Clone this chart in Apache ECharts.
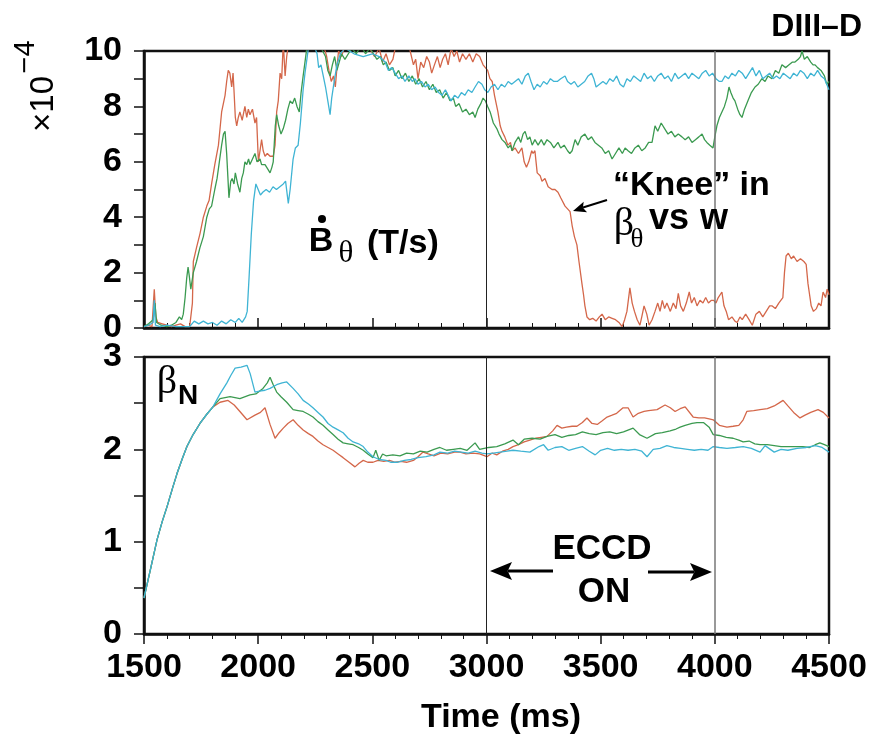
<!DOCTYPE html>
<html><head><meta charset="utf-8">
<script src="https://cdn.jsdelivr.net/npm/echarts@6/dist/echarts.min.js"></script>
<style>html,body{margin:0;padding:0;background:#fff}#c{width:873px;height:740px}</style>
</head><body><div id="c"></div>
<script>
const timeTicks = [1500, 2000, 2500, 3000, 3500, 4000, 4500];
const bdotTicks = [0, 2, 4, 6, 8, 10];
const betaTicks = [0, 1, 2, 3];
const eccdTimes = [3000, 4000];

const bdotRed = [[1500,0.05],[1520,0.1],[1535,0.05],[1545,1.4],[1552,0.4],[1560,0.2],[1580,0.15],[1600,0.1],[1620,0.05],[1640,0.1],[1660,0.15],[1680,0.05],[1700,0.05],[1712,0.9],[1716,2.4],[1730,2.9],[1745,3.4],[1760,4.0],[1775,4.4],[1785,4.6],[1796,5.2],[1810,5.9],[1826,6.6],[1840,7.8],[1855,8.4],[1862,8.9],[1869,9.3],[1876,9.2],[1884,8.7],[1890,9.2],[1894,8.6],[1900,7.6],[1906,7.3],[1913,7.6],[1920,7.8],[1930,7.5],[1942,8.0],[1950,7.6],[1957,7.9],[1964,7.7],[1975,7.9],[1986,7.4],[1993,7.6],[2001,6.0],[2008,6.4],[2015,6.8],[2022,6.4],[2030,6.2],[2040,6.3],[2052,6.2],[2066,6.2],[2074,6.6],[2081,7.8],[2088,8.2],[2096,9.2],[2103,9.0],[2110,10.3],[2118,9.1],[2125,9.8],[2135,10.4],[2200,10.6],[2280,10.4],[2300,9.8],[2310,9.3],[2320,8.9],[2330,9.1],[2338,8.7],[2345,9.4],[2352,10.0],[2365,9.8],[2380,10.2],[2420,10.4],[2480,10.2],[2510,9.8],[2530,10.1],[2545,9.6],[2560,9.9],[2575,9.5],[2590,9.7],[2600,10.1],[2620,10.3],[2660,10.2],[2680,9.5],[2690,9.7],[2700,9.0],[2712,9.6],[2725,9.4],[2738,9.8],[2750,9.6],[2760,9.2],[2772,9.5],[2785,9.8],[2797,9.4],[2808,9.7],[2820,9.9],[2832,9.5],[2845,10.1],[2858,9.8],[2870,10.0],[2882,9.6],[2895,9.9],[2910,9.7],[2925,9.9],[2940,9.6],[2955,9.9],[2970,9.8],[2985,9.5],[2995,9.4],[3005,9.3],[3015,9.0],[3025,8.9],[3035,8.4],[3050,7.8],[3060,7.3],[3068,7.1],[3080,6.9],[3094,6.6],[3105,6.7],[3112,6.4],[3125,6.5],[3140,6.3],[3155,6.5],[3165,6.0],[3175,5.8],[3185,6.0],[3198,6.4],[3204,6.3],[3212,6.4],[3222,5.6],[3235,5.5],[3243,5.3],[3256,5.4],[3270,5.1],[3287,5.0],[3300,5.0],[3313,4.9],[3325,4.7],[3344,4.4],[3355,4.3],[3366,4.2],[3375,3.7],[3385,3.3],[3396,3.0],[3405,2.4],[3418,1.6],[3425,1.2],[3431,0.8],[3440,0.4],[3452,0.3],[3465,0.35],[3480,0.25],[3494,0.4],[3506,0.5],[3520,0.3],[3535,0.4],[3550,0.35],[3565,0.3],[3580,0.2],[3594,0.05],[3605,0.3],[3615,0.6],[3628,1.45],[3638,0.9],[3648,0.6],[3660,0.3],[3672,0.1],[3680,0.4],[3690,0.8],[3702,0.5],[3712,0.1],[3725,0.3],[3738,0.6],[3750,0.9],[3760,0.6],[3770,1.0],[3780,0.7],[3790,0.9],[3805,0.6],[3818,0.9],[3830,0.7],[3840,1.25],[3850,0.8],[3862,0.6],[3875,0.9],[3888,1.3],[3898,0.9],[3910,1.1],[3922,0.8],[3935,1.0],[3948,0.9],[3960,1.1],[3972,0.9],[3985,1.0],[3995,1.0],[4005,0.9],[4015,1.1],[4031,1.3],[4040,0.8],[4050,0.6],[4060,0.3],[4075,0.4],[4088,0.25],[4098,0.2],[4110,0.4],[4120,0.3],[4135,0.5],[4150,0.3],[4164,0.1],[4180,0.5],[4195,0.6],[4210,0.4],[4225,0.6],[4240,0.8],[4250,0.8],[4265,0.7],[4280,0.9],[4298,1.1],[4305,2.0],[4312,2.6],[4322,2.7],[4335,2.5],[4345,2.6],[4360,2.4],[4375,2.5],[4390,2.4],[4400,2.3],[4408,1.6],[4415,1.2],[4422,0.8],[4432,0.6],[4445,0.7],[4455,0.9],[4465,0.8],[4474,1.3],[4485,1.1],[4492,1.4],[4500,1.2]];

const bdotGreen = [[1500,0.05],[1520,0.15],[1540,0.3],[1548,0.9],[1555,0.2],[1575,0.1],[1600,0.05],[1620,0.1],[1640,0.2],[1655,0.4],[1665,0.3],[1672,0.5],[1680,1.1],[1687,1.8],[1693,2.2],[1698,1.9],[1705,1.4],[1716,2.0],[1730,2.4],[1745,2.9],[1760,3.3],[1775,4.0],[1786,4.3],[1796,4.4],[1810,5.0],[1820,5.4],[1830,6.0],[1840,6.6],[1848,7.0],[1855,7.1],[1862,6.3],[1867,5.5],[1872,4.7],[1880,5.3],[1886,5.4],[1894,5.2],[1900,5.6],[1910,5.2],[1920,4.9],[1928,5.4],[1935,5.6],[1942,6.0],[1950,5.9],[1958,6.1],[1964,5.9],[1975,6.1],[1986,6.3],[1995,6.0],[2008,6.1],[2015,5.9],[2030,5.9],[2045,5.7],[2052,5.6],[2060,5.8],[2066,6.0],[2075,7.3],[2081,7.7],[2090,7.3],[2100,7.0],[2110,7.2],[2120,7.5],[2130,7.9],[2140,8.2],[2150,8.1],[2160,8.3],[2170,8.0],[2180,7.8],[2188,8.5],[2197,9.1],[2205,9.6],[2213,10.1],[2240,10.3],[2270,10.2],[2295,9.8],[2305,9.3],[2315,9.1],[2325,9.5],[2335,9.8],[2345,9.3],[2355,9.6],[2365,9.9],[2380,9.7],[2395,9.9],[2410,10.1],[2430,9.9],[2450,10.2],[2470,9.9],[2490,10.1],[2505,9.9],[2520,9.7],[2535,9.8],[2548,9.5],[2560,9.6],[2575,9.3],[2590,9.4],[2600,9.1],[2615,9.3],[2630,9.0],[2645,9.2],[2660,8.9],[2675,9.1],[2690,8.8],[2705,9.0],[2720,8.7],[2735,8.9],[2750,8.6],[2765,8.8],[2780,8.5],[2795,8.6],[2810,8.3],[2825,8.5],[2840,8.2],[2855,8.3],[2865,8.0],[2880,8.1],[2895,7.8],[2910,7.9],[2925,7.7],[2940,7.8],[2950,7.6],[2962,7.9],[2975,8.1],[2985,8.3],[2995,8.2],[3005,8.0],[3016,7.8],[3030,7.4],[3045,7.2],[3055,7.0],[3068,6.8],[3081,6.7],[3095,6.5],[3105,6.6],[3112,6.4],[3125,6.7],[3140,6.9],[3150,6.7],[3160,7.0],[3169,7.1],[3180,6.8],[3190,6.9],[3200,6.6],[3212,6.8],[3226,6.6],[3240,6.8],[3252,6.6],[3265,6.8],[3280,6.7],[3295,6.5],[3313,6.7],[3325,6.5],[3340,6.6],[3355,6.4],[3365,6.3],[3375,6.4],[3388,6.8],[3400,6.6],[3415,6.9],[3431,7.0],[3445,6.8],[3460,6.9],[3475,6.7],[3490,6.6],[3505,6.5],[3520,6.3],[3535,6.4],[3550,6.1],[3565,6.3],[3580,6.5],[3595,6.3],[3607,6.5],[3620,6.4],[3635,6.3],[3650,6.5],[3665,6.6],[3680,6.4],[3695,6.5],[3710,6.7],[3725,6.7],[3738,7.3],[3750,7.1],[3765,7.4],[3780,7.2],[3795,7.0],[3810,7.1],[3825,6.9],[3840,7.0],[3856,6.9],[3870,6.8],[3885,6.9],[3900,6.7],[3915,6.8],[3930,6.9],[3944,7.0],[3955,6.8],[3965,6.7],[3978,6.6],[3992,6.5],[4000,6.9],[4009,7.3],[4020,7.6],[4031,7.8],[4042,8.0],[4053,8.3],[4062,8.7],[4070,8.5],[4080,8.3],[4088,8.2],[4100,7.9],[4110,7.7],[4119,7.6],[4130,7.9],[4145,8.2],[4160,8.5],[4176,8.7],[4190,8.8],[4206,9.0],[4220,8.9],[4233,9.1],[4250,9.0],[4265,9.3],[4280,9.2],[4294,9.5],[4310,9.4],[4325,9.5],[4340,9.6],[4351,9.6],[4365,9.7],[4375,9.8],[4382,10.0],[4392,9.7],[4405,9.8],[4420,9.6],[4430,9.5],[4439,9.5],[4450,9.4],[4465,9.3],[4480,9.1],[4490,8.8],[4500,8.9]];

const bdotBlue = [[1500,0.05],[1520,0.1],[1540,0.2],[1545,1.0],[1550,0.1],[1570,0.05],[1600,0.1],[1640,0.05],[1700,0.05],[1720,0.25],[1740,0.15],[1760,0.25],[1780,0.15],[1800,0.2],[1820,0.1],[1840,0.25],[1860,0.15],[1880,0.3],[1900,0.2],[1915,0.35],[1930,0.2],[1945,0.4],[1952,0.6],[1960,1.8],[1970,3.4],[1980,4.6],[1990,5.2],[2000,5.0],[2010,4.8],[2020,4.9],[2035,5.0],[2050,4.9],[2065,5.1],[2080,5.0],[2095,5.1],[2110,5.2],[2120,5.3],[2132,4.5],[2140,5.0],[2153,6.1],[2163,6.5],[2175,6.6],[2185,7.4],[2197,8.6],[2205,9.2],[2220,10.1],[2240,10.3],[2258,9.9],[2265,9.4],[2275,9.5],[2285,9.1],[2295,8.7],[2305,8.2],[2315,7.7],[2322,8.3],[2333,8.9],[2345,9.5],[2360,9.9],[2380,10.1],[2420,9.9],[2460,9.8],[2500,9.9],[2530,9.8],[2556,9.6],[2570,9.3],[2585,9.4],[2600,9.2],[2615,9.0],[2630,9.1],[2643,8.9],[2660,9.1],[2675,8.9],[2687,9.0],[2700,8.8],[2715,8.9],[2731,8.7],[2745,8.8],[2760,8.6],[2775,8.7],[2790,8.5],[2805,8.4],[2820,8.6],[2832,8.4],[2845,8.2],[2860,8.4],[2875,8.3],[2890,8.5],[2905,8.4],[2920,8.6],[2936,8.5],[2950,8.7],[2965,8.9],[2980,8.8],[2992,8.6],[3006,8.5],[3020,8.7],[3035,8.8],[3050,8.6],[3065,8.8],[3080,8.7],[3095,8.9],[3110,8.8],[3125,8.9],[3140,9.0],[3155,8.8],[3170,9.1],[3183,9.2],[3195,8.9],[3208,8.6],[3222,8.8],[3235,8.7],[3250,8.9],[3265,8.8],[3280,9.0],[3295,8.9],[3310,8.9],[3325,9.0],[3344,9.1],[3355,8.9],[3370,8.8],[3385,8.9],[3400,8.7],[3415,8.8],[3430,8.9],[3445,9.1],[3460,9.2],[3470,9.0],[3480,8.7],[3495,8.8],[3510,8.9],[3525,8.8],[3540,9.0],[3555,8.9],[3570,9.1],[3585,8.8],[3600,8.7],[3615,9.0],[3630,8.9],[3645,9.1],[3660,9.0],[3675,8.9],[3690,9.2],[3705,9.0],[3720,9.1],[3735,8.9],[3750,9.1],[3765,9.2],[3780,9.0],[3795,9.1],[3810,8.9],[3825,9.2],[3840,9.0],[3855,9.1],[3870,9.2],[3885,9.0],[3900,9.2],[3915,9.1],[3930,9.0],[3945,9.2],[3960,9.3],[3975,9.1],[3990,9.2],[4005,9.0],[4020,8.9],[4031,8.9],[4045,9.1],[4060,9.0],[4075,9.2],[4090,9.1],[4105,9.3],[4120,9.2],[4135,9.0],[4150,9.2],[4165,9.4],[4180,9.1],[4195,9.3],[4210,9.0],[4225,9.1],[4240,9.2],[4255,9.0],[4270,9.1],[4285,9.0],[4300,9.2],[4315,9.1],[4330,9.0],[4345,9.2],[4360,9.1],[4375,9.3],[4390,9.2],[4405,9.0],[4420,9.2],[4435,9.1],[4450,9.3],[4465,9.1],[4480,9.0],[4490,8.8],[4500,8.6]];

const betaRise = [[1500,0.39],[1530,0.72],[1557,1.02],[1580,1.22],[1601,1.38],[1625,1.58],[1645,1.74],[1668,1.9],[1688,2.03],[1715,2.16],[1745,2.28],[1775,2.38],[1802,2.46]];

const betaRedTail = [[1833,2.51],[1868,2.53],[1895,2.48],[1920,2.41],[1951,2.32],[1986,2.37],[2010,2.40],[2030,2.45],[2052,2.27],[2074,2.12],[2092,2.18],[2110,2.23],[2130,2.28],[2153,2.32],[2175,2.26],[2197,2.21],[2220,2.17],[2240,2.14],[2262,2.09],[2284,2.05],[2306,2.02],[2328,1.99],[2350,1.95],[2372,1.91],[2398,1.86],[2424,1.81],[2442,1.85],[2460,1.88],[2480,1.86],[2503,1.86],[2525,1.88],[2550,1.87],[2575,1.88],[2600,1.86],[2625,1.87],[2650,1.86],[2680,1.88],[2700,1.92],[2722,1.97],[2745,1.95],[2770,1.93],[2800,1.96],[2830,1.95],[2860,1.97],[2884,1.97],[2910,1.95],[2940,1.96],[2970,1.95],[3002,1.92],[3025,1.96],[3045,1.94],[3070,1.98],[3095,2.0],[3116,2.03],[3140,2.05],[3165,2.08],[3190,2.1],[3215,2.12],[3240,2.13],[3265,2.14],[3290,2.2],[3309,2.26],[3330,2.23],[3350,2.24],[3375,2.25],[3396,2.25],[3420,2.29],[3440,2.34],[3462,2.28],[3485,2.27],[3507,2.31],[3528,2.35],[3550,2.37],[3570,2.39],[3598,2.45],[3620,2.45],[3642,2.35],[3665,2.39],[3690,2.41],[3710,2.42],[3747,2.43],[3782,2.48],[3805,2.45],[3826,2.41],[3848,2.44],[3870,2.46],[3905,2.35],[3930,2.34],[3955,2.34],[3975,2.33],[3993,2.32],[4020,2.26],[4053,2.24],[4080,2.25],[4105,2.26],[4124,2.32],[4140,2.41],[4170,2.42],[4198,2.43],[4230,2.44],[4260,2.47],[4280,2.50],[4299,2.53],[4320,2.47],[4345,2.40],[4373,2.34],[4395,2.37],[4420,2.40],[4452,2.43],[4475,2.40],[4500,2.34]];

const betaGreenTail = [[1833,2.55],[1877,2.57],[1920,2.55],[1964,2.59],[1990,2.60],[2021,2.66],[2040,2.72],[2052,2.78],[2066,2.70],[2081,2.62],[2100,2.57],[2125,2.51],[2153,2.43],[2175,2.42],[2197,2.41],[2220,2.38],[2240,2.35],[2262,2.30],[2284,2.26],[2306,2.21],[2328,2.16],[2350,2.11],[2372,2.07],[2394,2.06],[2416,2.05],[2440,2.02],[2460,1.99],[2480,1.95],[2503,1.91],[2515,1.99],[2530,1.88],[2545,1.95],[2560,1.93],[2590,1.94],[2621,1.93],[2650,1.96],[2680,1.95],[2710,1.98],[2740,1.97],[2770,2.0],[2796,2.02],[2825,1.99],[2855,2.0],[2885,2.01],[2915,1.99],[2950,2.07],[2970,2.0],[2990,2.01],[3010,2.02],[3045,2.03],[3080,2.06],[3116,2.10],[3140,2.05],[3165,2.11],[3200,2.12],[3235,2.11],[3265,2.14],[3300,2.16],[3330,2.13],[3360,2.15],[3390,2.16],[3420,2.19],[3450,2.17],[3480,2.16],[3510,2.18],[3540,2.19],[3570,2.17],[3600,2.19],[3642,2.23],[3670,2.16],[3703,2.12],[3740,2.17],[3770,2.18],[3804,2.20],[3830,2.22],[3848,2.24],[3870,2.26],[3900,2.28],[3922,2.29],[3950,2.29],[3975,2.24],[3993,2.16],[4020,2.15],[4050,2.13],[4080,2.12],[4105,2.10],[4124,2.08],[4150,2.09],[4175,2.06],[4198,2.05],[4230,2.05],[4260,2.04],[4290,2.03],[4317,2.03],[4350,2.03],[4385,2.03],[4415,2.02],[4440,2.05],[4460,2.07],[4480,2.05],[4500,2.03]];

const betaBlueTail = [[1833,2.60],[1863,2.72],[1880,2.80],[1899,2.88],[1925,2.89],[1951,2.91],[1965,2.82],[1986,2.62],[2005,2.63],[2030,2.64],[2052,2.66],[2081,2.70],[2105,2.72],[2125,2.73],[2153,2.66],[2175,2.60],[2197,2.53],[2220,2.49],[2240,2.45],[2262,2.40],[2284,2.35],[2306,2.28],[2328,2.24],[2350,2.21],[2372,2.18],[2394,2.12],[2416,2.08],[2440,2.06],[2460,2.03],[2480,1.97],[2503,1.92],[2530,1.89],[2560,1.88],[2580,1.86],[2608,1.86],[2640,1.88],[2670,1.89],[2700,1.91],[2735,1.92],[2770,1.94],[2796,1.97],[2830,1.96],[2860,1.98],[2890,1.97],[2920,1.96],[2950,1.98],[2980,1.96],[3002,1.95],[3030,1.96],[3060,1.97],[3090,1.98],[3116,1.99],[3150,1.98],[3190,1.97],[3230,2.03],[3250,2.05],[3270,1.99],[3300,2.02],[3330,2.03],[3360,1.99],[3390,2.01],[3420,2.03],[3450,1.98],[3476,1.94],[3500,1.99],[3530,2.01],[3560,1.99],[3590,2.0],[3620,1.99],[3650,2.0],[3680,1.98],[3703,1.92],[3730,2.0],[3760,2.01],[3790,2.04],[3820,2.02],[3850,2.01],[3880,2.0],[3910,1.99],[3940,2.0],[3970,1.99],[3993,2.03],[4020,2.02],[4053,2.01],[4090,2.02],[4124,2.03],[4160,2.01],[4198,1.97],[4220,2.04],[4260,1.97],[4290,2.0],[4320,1.99],[4360,2.01],[4400,2.02],[4440,2.04],[4470,2.02],[4500,1.97]];

const betaRed = betaRise.concat(betaRedTail);
const betaGreen = betaRise.concat(betaGreenTail);
const betaBlue = betaRise.concat(betaBlueTail);

const RED = '#d4674a', GREEN = '#3b9a50', BLUE = '#3fb4d4';
const SANS = '"Liberation Sans", Arial, Helvetica, sans-serif';
const SERIF = '"Liberation Serif", "Times New Roman", serif';

const chart = echarts.init(document.getElementById('c'), null, {renderer: 'canvas'});

function xAxisCfg(idx, showLabels) {
  return {
    type: 'value', gridIndex: idx, min: 1500, max: 4500, interval: 500,
    axisLine: {show: true, onZero: false, lineStyle: {color: '#111', width: 2.5}},
    axisTick: {show: true, inside: !showLabels, length: 10, lineStyle: {color: '#111', width: 1.5}},
    minorTick: {show: true, splitNumber: 5, length: 5, lineStyle: {color: '#111', width: 1}},
    splitLine: {show: false}, minorSplitLine: {show: false},
    axisLabel: {show: showLabels, margin: 17, color: '#000', fontSize: 34, fontWeight: 'bold', fontFamily: SANS,
      formatter: v => timeTicks.indexOf(v) >= 0 ? String(v) : ''}
  };
}
function yAxisCfg(idx, max, interval, labels) {
  return {
    type: 'value', gridIndex: idx, min: 0, max: max, interval: interval,
    axisLine: {show: true, onZero: false, lineStyle: {color: '#111', width: 2.5}},
    axisTick: {show: true, inside: false, length: 10, lineStyle: {color: '#111', width: 1.5}},
    splitLine: {show: false},
    axisLabel: {margin: 22, color: '#000', fontSize: 34, fontWeight: 'bold', fontFamily: SANS,
      formatter: v => labels.indexOf(Math.round(v * 100) / 100) >= 0 ? String(v) : ''}
  };
}
function vlines() {
  return {
    symbol: 'none', silent: true, label: {show: false},
    lineStyle: {color: '#222', width: 1, type: 'solid'},
    emphasis: {disabled: true},
    data: eccdTimes.map((t, i) => ({xAxis: t, lineStyle: {color: i === 0 ? '#222' : '#777', width: i === 0 ? 1 : 1.5, type: 'solid'}}))
  };
}
function line(name, data, color, xi, yi, extra) {
  return Object.assign({
    name: name, type: 'line', xAxisIndex: xi, yAxisIndex: yi, data: data,
    showSymbol: false, symbol: 'none', smooth: false, clip: true, animation: false,
    lineStyle: {color: color, width: 1.3}, itemStyle: {color: color}
  }, extra || {});
}

function arrowHead(tip, dir, len, half) {
  const n = Math.hypot(dir[0], dir[1]);
  const ux = dir[0] / n, uy = dir[1] / n;
  const bx = tip[0] - ux * len, by = tip[1] - uy * len;
  const nx = bx + ux * len * 0.2, ny = by + uy * len * 0.2;
  return [[tip[0], tip[1]], [bx - uy * half, by + ux * half], [nx, ny], [bx + uy * half, by - ux * half]];
}

const txt = (x, y, text, size, opts) => ({
  type: 'text', x: x, y: y, z: 100,
  style: Object.assign({text: text, fill: '#000', fontSize: size, fontWeight: 'bold', fontFamily: SANS,
    align: 'left', verticalAlign: 'middle'}, opts || {})
});

const graphics = [
  // ×10^-4 (rotated, reading bottom to top)
  {type: 'text', x: 44, y: 104, rotation: Math.PI / 2, z: 100,
    style: {text: '×10', fill: '#000', fontSize: 33, fontFamily: SANS, align: 'center', verticalAlign: 'middle'}},
  {type: 'text', x: 26, y: 57, rotation: Math.PI / 2, z: 100,
    style: {text: '−4', fill: '#000', fontSize: 29, fontFamily: SANS, align: 'center', verticalAlign: 'middle'}},
  txt(862, 27, 'DIII–D', 32, {align: 'right'}),
  // B-dot theta (T/s)
  txt(321, 242, 'B', 34, {align: 'center'}),
  {type: 'circle', z: 100, shape: {cx: 322, cy: 219, r: 4}, style: {fill: '#000'}},
  txt(346, 254, 'θ', 31, {align: 'center', fontWeight: 'normal', fontFamily: SERIF}),
  txt(367, 244, '(T/s)', 34),
  // Knee annotation
  txt(613, 186, '“Knee” in', 34),
  txt(624, 224, 'β', 40, {align: 'center', fontWeight: 'normal', fontFamily: SERIF}),
  txt(637, 240, 'θ', 27, {align: 'center', fontWeight: 'normal', fontFamily: SERIF}),
  txt(649, 219, 'vs', 36),
  txt(700, 219, 'w', 36),
  {type: 'polyline', z: 100, shape: {points: [[607, 200], [583, 207.5]]}, style: {stroke: '#000', lineWidth: 2, fill: null}},
  {type: 'polygon', z: 100, shape: {points: arrowHead([573, 211], [-34, 11], 13, 5.5)}, style: {fill: '#000'}},
  // beta_N
  txt(167, 382, 'β', 40, {align: 'center', fontWeight: 'normal', fontFamily: SERIF}),
  txt(178, 396, 'N', 28),
  // ECCD ON
  txt(602, 549, 'ECCD', 35, {align: 'center'}),
  txt(604, 592, 'ON', 35, {align: 'center'}),
  {type: 'polyline', z: 100, shape: {points: [[553, 571], [508, 571]]}, style: {stroke: '#000', lineWidth: 3, fill: null}},
  {type: 'polygon', z: 100, shape: {points: arrowHead([490, 571], [-1, 0], 22, 9)}, style: {fill: '#000'}},
  {type: 'polyline', z: 100, shape: {points: [[648, 572], [694, 572]]}, style: {stroke: '#000', lineWidth: 3, fill: null}},
  {type: 'polygon', z: 100, shape: {points: arrowHead([712, 572], [1, 0], 22, 9)}, style: {fill: '#000'}},
  // x axis title
  txt(501, 718, 'Time (ms)', 34, {align: 'center'})
];

chart.setOption({
  animation: false,
  backgroundColor: '#fff',
  grid: [
    {left: 144, top: 51, width: 685, height: 277, show: true, borderColor: '#111', borderWidth: 2.5, backgroundColor: 'transparent'},
    {left: 144, top: 357, width: 685, height: 277, show: true, borderColor: '#111', borderWidth: 2.5, backgroundColor: 'transparent'}
  ],
  xAxis: [xAxisCfg(0, false), xAxisCfg(1, true)],
  yAxis: [yAxisCfg(0, 10, 1, bdotTicks), yAxisCfg(1, 3, 0.5, betaTicks)],
  series: [
    line('Bdot red', bdotRed, RED, 0, 0, {markLine: vlines()}),
    line('Bdot green', bdotGreen, GREEN, 0, 0),
    line('Bdot blue', bdotBlue, BLUE, 0, 0),
    line('betaN red', betaRed, RED, 1, 1, {markLine: vlines()}),
    line('betaN green', betaGreen, GREEN, 1, 1),
    line('betaN blue', betaBlue, BLUE, 1, 1)
  ],
  graphic: graphics
});
</script>
</body></html>
